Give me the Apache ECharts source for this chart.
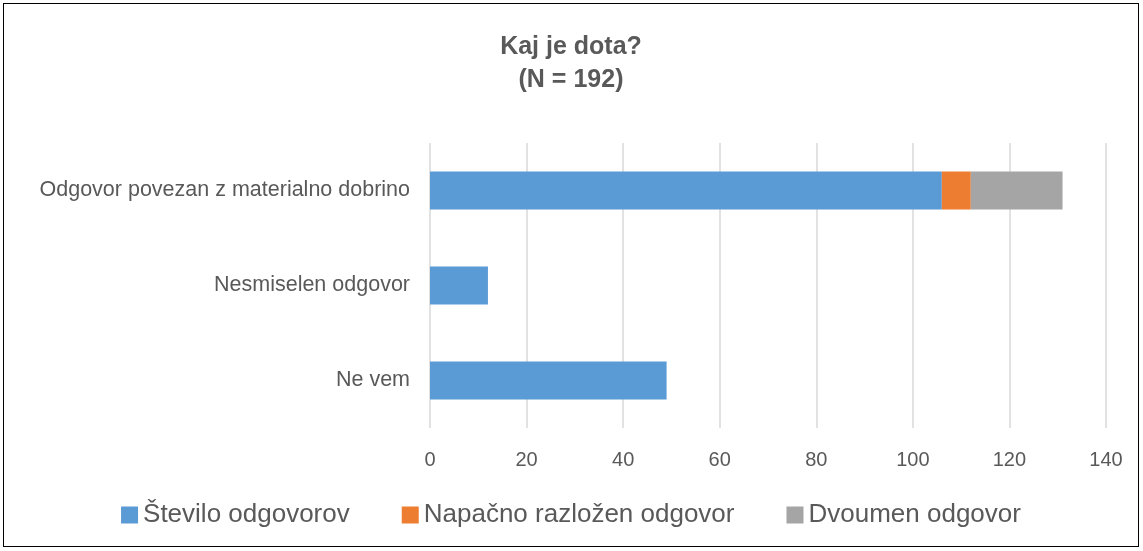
<!DOCTYPE html>
<html>
<head>
<meta charset="utf-8">
<script src="https://cdn.jsdelivr.net/npm/echarts@6/dist/echarts.min.js"></script>
<style>
  html, body { margin: 0; padding: 0; background: #fff; }
  #chart { position: absolute; left: 3px; top: 3px; width: 1136px; height: 544px; border: 1px solid #000; box-sizing: border-box; }
</style>
</head>
<body>
<div id="chart"></div>
<script>
  // kategorije od spodaj navzgor (kot v Excelu)
  var categories = ['Ne vem', 'Nesmiselen odgovor', 'Odgovor povezan z materialno dobrino']
  var stevilo = [49, 12, 106]
  var napacno = [null, null, 6]
  var dvoumen = [null, null, 19]
  var xTicks = [0, 20, 40, 60, 80, 100, 120, 140]

  var font = 'Liberation Sans, sans-serif'
  var myChart = echarts.init(document.getElementById('chart'))
  myChart.setOption({
    animation: false,
    textStyle: { fontFamily: font },
    title: {
      text: 'Kaj je dota?\n(N = 192)',
      left: 'center',
      top: 22,
      textStyle: { fontSize: 25, fontWeight: 'bold', color: '#595959', lineHeight: 33, fontFamily: font }
    },
    legend: {
      bottom: 13,
      left: 'center',
      itemWidth: 17,
      itemHeight: 17,
      itemGap: 52,
      icon: 'rect',
      textStyle: { fontSize: 26, color: '#595959', fontFamily: font },
      data: ['Število odgovorov', 'Napačno razložen odgovor', 'Dvoumen odgovor']
    },
    grid: { left: 426, right: 32, top: 139, bottom: 118 },
    xAxis: {
      type: 'value',
      min: xTicks[0],
      max: xTicks[xTicks.length - 1],
      interval: 20,
      axisLine: { show: false },
      axisTick: { show: false },
      axisLabel: { fontSize: 20, color: '#595959', margin: 22, fontFamily: font },
      splitLine: { lineStyle: { color: '#d9d9d9', width: 1.5 } }
    },
    yAxis: {
      type: 'category',
      data: categories,
      axisLine: { show: false },
      axisTick: { show: false },
      axisLabel: { fontSize: 21.5, color: '#595959', margin: 20, fontFamily: font }
    },
    series: [
      { name: 'Število odgovorov', type: 'bar', stack: 'a', data: stevilo, barCategoryGap: '60%', itemStyle: { color: '#5b9bd5' } },
      { name: 'Napačno razložen odgovor', type: 'bar', stack: 'a', data: napacno, itemStyle: { color: '#ed7d31' } },
      { name: 'Dvoumen odgovor', type: 'bar', stack: 'a', data: dvoumen, itemStyle: { color: '#a5a5a5' } }
    ]
  })
  window.addEventListener('resize', function () {
    myChart.resize()
  })
</script>
</body>
</html>
